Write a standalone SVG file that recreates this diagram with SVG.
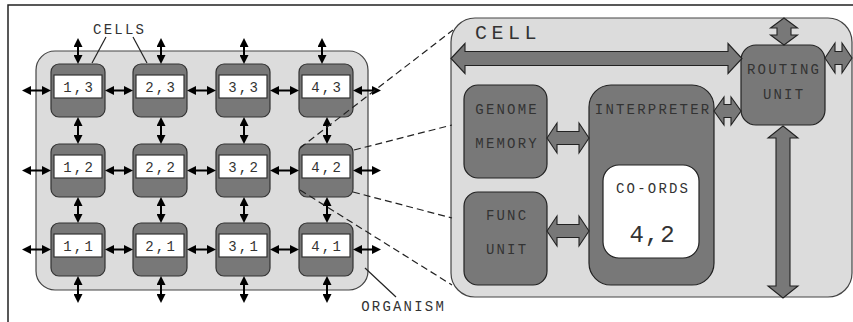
<svg xmlns="http://www.w3.org/2000/svg" width="853" height="322" viewBox="0 0 853 322">
  <style>
    .t { font-family: "Liberation Mono", "DejaVu Sans Mono", monospace; font-size: 14px; fill: #333; letter-spacing: 2.2px; text-anchor: middle; }
    .org { fill: #dcdcdc; stroke: #444; stroke-width: 1.2; }
    .cell { fill: #787878; stroke: #333; stroke-width: 1.2; }
    .lbl { fill: #fff; stroke: #333; stroke-width: 1.2; }
    .blk { fill: #787878; stroke: #222; stroke-width: 1.2; }
    .bus { fill: #787878; stroke: #222; stroke-width: 1.1; stroke-linejoin: miter; }
    .link { stroke: #000; stroke-width: 2; fill: none; marker-start: url(#head); marker-end: url(#head); }
    .dash { stroke: #222; stroke-width: 1.2; stroke-dasharray: 7 4; fill: none; }
    .lead { stroke: #222; stroke-width: 1.2; fill: none; }
  </style>
  <defs>
    <marker id="head" viewBox="0 0 10 10" refX="6.7" refY="5" markerWidth="9" markerHeight="9" markerUnits="userSpaceOnUse" orient="auto-start-reverse">
      <path d="M0,0 L10,5 L0,10 Z" fill="#000"/>
    </marker>
  </defs>

  <rect width="853" height="322" fill="#fff"/>
  <!-- page frame -->
  <path d="M8,322 V5 H853" fill="none" stroke="#222" stroke-width="1.5"/>

  <!-- organism -->
  <g id="organism">
    <rect class="org" x="36" y="51" width="332" height="239" rx="19"/>
  </g>

  <!-- cell grid -->
  <g id="cell-1-3"><rect class="cell" x="51" y="64" width="54" height="53" rx="8"/><rect class="lbl" x="54" y="75" width="48" height="23"/><text class="t" x="79.1" y="91.5">1,3</text></g>
  <g id="cell-2-3"><rect class="cell" x="133" y="64" width="54" height="53" rx="8"/><rect class="lbl" x="136" y="75" width="48" height="23"/><text class="t" x="161.1" y="91.5">2,3</text></g>
  <g id="cell-3-3"><rect class="cell" x="216" y="64" width="54" height="53" rx="8"/><rect class="lbl" x="219" y="75" width="48" height="23"/><text class="t" x="244.1" y="91.5">3,3</text></g>
  <g id="cell-4-3"><rect class="cell" x="299" y="64" width="54" height="53" rx="8"/><rect class="lbl" x="302" y="75" width="48" height="23"/><text class="t" x="327.1" y="91.5">4,3</text></g>

  <g id="cell-1-2"><rect class="cell" x="51" y="144" width="54" height="53" rx="8"/><rect class="lbl" x="54" y="155" width="48" height="23"/><text class="t" x="79.1" y="171.5">1,2</text></g>
  <g id="cell-2-2"><rect class="cell" x="133" y="144" width="54" height="53" rx="8"/><rect class="lbl" x="136" y="155" width="48" height="23"/><text class="t" x="161.1" y="171.5">2,2</text></g>
  <g id="cell-3-2"><rect class="cell" x="216" y="144" width="54" height="53" rx="8"/><rect class="lbl" x="219" y="155" width="48" height="23"/><text class="t" x="244.1" y="171.5">3,2</text></g>
  <g id="cell-4-2"><rect class="cell" x="299" y="144" width="54" height="53" rx="8"/><rect class="lbl" x="302" y="155" width="48" height="23"/><text class="t" x="327.1" y="171.5">4,2</text></g>

  <g id="cell-1-1"><rect class="cell" x="51" y="223" width="54" height="53" rx="8"/><rect class="lbl" x="54" y="234" width="48" height="23"/><text class="t" x="79.1" y="250.5">1,1</text></g>
  <g id="cell-2-1"><rect class="cell" x="133" y="223" width="54" height="53" rx="8"/><rect class="lbl" x="136" y="234" width="48" height="23"/><text class="t" x="161.1" y="250.5">2,1</text></g>
  <g id="cell-3-1"><rect class="cell" x="216" y="223" width="54" height="53" rx="8"/><rect class="lbl" x="219" y="234" width="48" height="23"/><text class="t" x="244.1" y="250.5">3,1</text></g>
  <g id="cell-4-1"><rect class="cell" x="299" y="223" width="54" height="53" rx="8"/><rect class="lbl" x="302" y="234" width="48" height="23"/><text class="t" x="327.1" y="250.5">4,1</text></g>

  <!-- enlarged cell -->
  <g id="cell-detail">
    <rect class="org" x="451" y="18" width="401" height="279" rx="24" stroke="#333"/>
    <text class="t" x="508" y="39" style="font-size:20px;letter-spacing:4.5px">CELL</text>
  </g>
  <g id="genome-memory">
    <rect class="blk" x="464" y="85" width="83" height="93" rx="14"/>
    <text class="t" x="507.1" y="114">GENOME</text>
    <text class="t" x="507.1" y="148">MEMORY</text>
  </g>
  <g id="func-unit">
    <rect class="blk" x="464" y="192" width="83" height="93" rx="14"/>
    <text class="t" x="507.1" y="220">FUNC</text>
    <text class="t" x="507.1" y="254">UNIT</text>
  </g>
  <g id="interpreter">
    <rect class="blk" x="589" y="85" width="125" height="200" rx="22"/>
    <text class="t" x="653.1" y="114">INTERPRETER</text>
  </g>
  <g id="co-ords">
    <rect x="603" y="165" width="96" height="93" rx="16" fill="#fff" stroke="#222" stroke-width="1.2"/>
    <text class="t" x="653.1" y="193">CO-ORDS</text>
    <text class="t" x="652.5" y="241.5" style="font-size:24px;letter-spacing:1px">4,2</text>
  </g>
  <g id="routing-unit">
    <rect class="blk" x="741" y="45" width="84" height="80" rx="15"/>
    <text class="t" x="784.1" y="74">ROUTING</text>
    <text class="t" x="784.1" y="99">UNIT</text>
  </g>

  <!-- connectors -->
  <g id="connectors">
    <!-- grid links, horizontal -->
    <g>
      <line class="link" x1="25" y1="90.5" x2="48" y2="90.5"/>
      <line class="link" x1="108" y1="90.5" x2="130" y2="90.5"/>
      <line class="link" x1="190" y1="90.5" x2="213" y2="90.5"/>
      <line class="link" x1="273" y1="90.5" x2="296" y2="90.5"/>
      <line class="link" x1="356" y1="90.5" x2="378" y2="90.5"/>

      <line class="link" x1="25" y1="170.5" x2="48" y2="170.5"/>
      <line class="link" x1="108" y1="170.5" x2="130" y2="170.5"/>
      <line class="link" x1="190" y1="170.5" x2="213" y2="170.5"/>
      <line class="link" x1="273" y1="170.5" x2="296" y2="170.5"/>
      <line class="link" x1="356" y1="170.5" x2="378" y2="170.5"/>

      <line class="link" x1="25" y1="249.5" x2="48" y2="249.5"/>
      <line class="link" x1="108" y1="249.5" x2="130" y2="249.5"/>
      <line class="link" x1="190" y1="249.5" x2="213" y2="249.5"/>
      <line class="link" x1="273" y1="249.5" x2="296" y2="249.5"/>
      <line class="link" x1="356" y1="249.5" x2="378" y2="249.5"/>
    </g>
    <!-- grid links, vertical -->
    <g>
      <line class="link" x1="78" y1="41" x2="78" y2="61"/>
      <line class="link" x1="161" y1="41" x2="161" y2="61"/>
      <line class="link" x1="244" y1="41" x2="244" y2="61"/>
      <line class="link" x1="322" y1="41" x2="322" y2="61"/>

      <line class="link" x1="78" y1="120" x2="78" y2="141"/>
      <line class="link" x1="161" y1="120" x2="161" y2="141"/>
      <line class="link" x1="244" y1="120" x2="244" y2="141"/>
      <line class="link" x1="327" y1="120" x2="327" y2="141"/>

      <line class="link" x1="78" y1="200" x2="78" y2="220"/>
      <line class="link" x1="161" y1="200" x2="161" y2="220"/>
      <line class="link" x1="244" y1="200" x2="244" y2="220"/>
      <line class="link" x1="327" y1="200" x2="327" y2="220"/>

      <line class="link" x1="78" y1="279" x2="78" y2="300"/>
      <line class="link" x1="161" y1="279" x2="161" y2="300"/>
      <line class="link" x1="244" y1="279" x2="244" y2="300"/>
      <line class="link" x1="327" y1="279" x2="327" y2="300"/>
    </g>

    <!-- zoom-out dashed lines from cell 4,2 -->
    <line class="dash" x1="300" y1="148" x2="453" y2="30"/>
    <line class="dash" x1="354" y1="150" x2="452" y2="125"/>
    <line class="dash" x1="353" y1="192" x2="452" y2="218"/>
    <line class="dash" x1="300" y1="190" x2="452" y2="285"/>

    <!-- internal buses of the enlarged cell -->
    <polygon class="bus" points="451,58.5 465,43.5 465,51.5 728,51.5 728,43.5 742,58.5 728,73.5 728,65.5 465,65.5 465,73.5"/>
    <polygon class="bus" points="547,138 557,123 557,131.5 579,131.5 579,123 589,138 579,153 579,144.5 557,144.5 557,153"/>
    <polygon class="bus" points="547,231 557,216 557,224.5 579,224.5 579,216 589,231 579,246 579,237.5 557,237.5 557,246"/>
    <polygon class="bus" points="714,111 724,97 724,104.5 731,104.5 731,97 741,111 731,125 731,117.5 724,117.5 724,125"/>
    <polygon class="bus" points="825,58 835,43 835,51.5 842,51.5 842,43 852,58 842,73 842,64.5 835,64.5 835,73"/>
    <polygon class="bus" points="784,18 797.5,28 791,28 791,35 797.5,35 784,45 770.5,35 777,35 777,28 770.5,28"/>
    <polygon class="bus" points="783,126 798,138 790,138 790,286 798,286 783,298 768,286 776,286 776,138 768,138"/>

    <!-- label leaders -->
    <line class="lead" x1="106" y1="37" x2="92" y2="63"/>
    <line class="lead" x1="133" y1="37" x2="147" y2="63"/>
    <line class="lead" x1="365" y1="268" x2="396" y2="297"/>
  </g>

  <text class="t" x="119.6" y="33.5">CELLS</text>
  <text class="t" x="403.6" y="310.5">ORGANISM</text>
</svg>
